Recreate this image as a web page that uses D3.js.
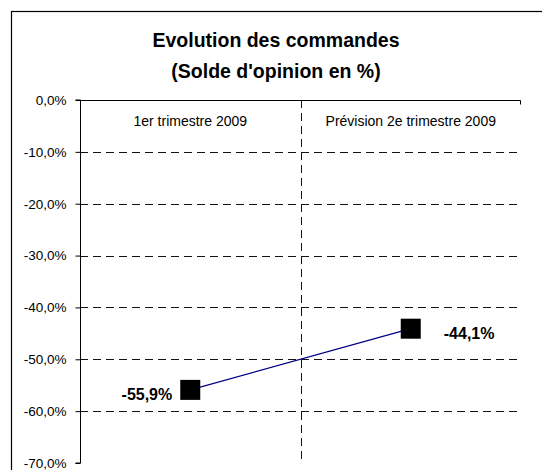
<!DOCTYPE html>
<html lang="fr">
<head>
  <meta charset="UTF-8">
  <title>Evolution des commandes</title>
  <script src="https://d3js.org/d3.v7.min.js"></script>
  <style>
    body { margin: 0; background: #fff; }
    svg { display: block; font-family: "Liberation Sans", Arial, sans-serif; }
  </style>
</head>
<body>
  <svg id="chart" width="542" height="470"></svg>

  <script>
    const categories = ["1er trimestre 2009", "Prévision 2e trimestre 2009"];
    const values = [-55.9, -44.1];
    const yTicks = [0, -10, -20, -30, -40, -50, -60, -70];
    const titleLines = ["Evolution des commandes", "(Solde d'opinion en %)"];

    // french number format, plain hyphen for the minus sign
    const fr = d3.formatLocale({ decimal: ",", thousands: " ", grouping: [3], currency: ["", " €"], minus: "-" });
    const fmt = v => fr.format(".1f")(v) + "%";

    const svg = d3.select("#chart");
    const width = +svg.attr("width");

    // chart frame (runs off the right and bottom edges, as in the original)
    svg.append("rect")
      .attr("x", 11.5).attr("y", 11.5)
      .attr("width", 700).attr("height", 700)
      .attr("fill", "none")
      .attr("stroke", "#000")
      .attr("stroke-width", 1.2);

    svg.selectAll(".title")
      .data(titleLines)
      .enter().append("text")
      .attr("x", 276)
      .attr("y", (d, i) => 47 + i * 31)
      .attr("text-anchor", "middle")
      .style("font-size", "19.5px")
      .style("font-weight", "bold")
      .text(d => d);

    const margin = { top: 100, left: 80, right: 21 };
    const plotBottom = 463;

    const x = d3.scaleBand().domain(categories).range([margin.left, width - margin.right]);
    const y = d3.scaleLinear().domain([0, -70]).range([margin.top, plotBottom]);

    const g = svg.append("g");

    // horizontal dashed gridlines
    g.selectAll(".grid")
      .data(yTicks.filter(t => t !== 0 && t !== -70))
      .enter().append("line")
      .attr("x1", margin.left).attr("x2", width - margin.right)
      .attr("y1", d => Math.round(y(d)) + 0.5).attr("y2", d => Math.round(y(d)) + 0.5)
      .attr("stroke", "#111")
      .attr("stroke-dasharray", "8,5");

    // vertical dashed separator between categories
    g.append("line")
      .attr("x1", Math.round(x(categories[1])) + 0.5)
      .attr("x2", Math.round(x(categories[1])) + 0.5)
      .attr("y1", margin.top).attr("y2", plotBottom)
      .attr("stroke", "#111")
      .attr("stroke-dasharray", "8,5");

    // y axis
    const yAxis = svg.append("g")
      .attr("transform", `translate(${margin.left + 0.5},0)`)
      .call(d3.axisLeft(y).tickValues(yTicks).tickFormat(fmt).tickSize(5).tickPadding(9));
    yAxis.select(".domain").attr("d", `M-5,${margin.top}H0V${plotBottom}H-5`).attr("stroke", "#000");
    yAxis.selectAll(".tick line").attr("stroke", "#000");
    yAxis.selectAll(".tick text")
      .style("font-size", "13.5px")
      .attr("fill", "#000");

    // category axis at the zero line (top)
    const xAxis = svg.append("g")
      .attr("transform", `translate(0,${margin.top + 0.5})`)
      .call(d3.axisBottom(x).tickSize(0).tickPadding(16));
    xAxis.select(".domain").attr("d", `M${margin.left},0H${width - margin.right - 0.5}V4`).attr("stroke", "#000");
    xAxis.selectAll(".tick text")
      .style("font-size", "14px")
      .attr("fill", "#000");

    const cx = d => x(d) + x.bandwidth() / 2;
    const pts = categories.map((c, i) => [cx(c), y(values[i])]);

    g.append("path")
      .attr("d", d3.line()(pts))
      .attr("fill", "none")
      .attr("stroke", "#000080")
      .attr("stroke-width", 1.3);

    const size = 20;
    g.selectAll(".marker")
      .data(pts)
      .enter().append("rect")
      .attr("x", d => d[0] - size / 2)
      .attr("y", d => d[1] - size / 2)
      .attr("width", size).attr("height", size)
      .attr("fill", "#000");

    g.selectAll(".label")
      .data(pts)
      .enter().append("text")
      .attr("x", (d, i) => i === 0 ? d[0] - 18 : d[0] + 33)
      .attr("y", d => d[1] + 10)
      .attr("text-anchor", (d, i) => i === 0 ? "end" : "start")
      .style("font-size", "16px")
      .style("font-weight", "bold")
      .text((d, i) => fmt(values[i]));
  </script>
</body>
</html>
